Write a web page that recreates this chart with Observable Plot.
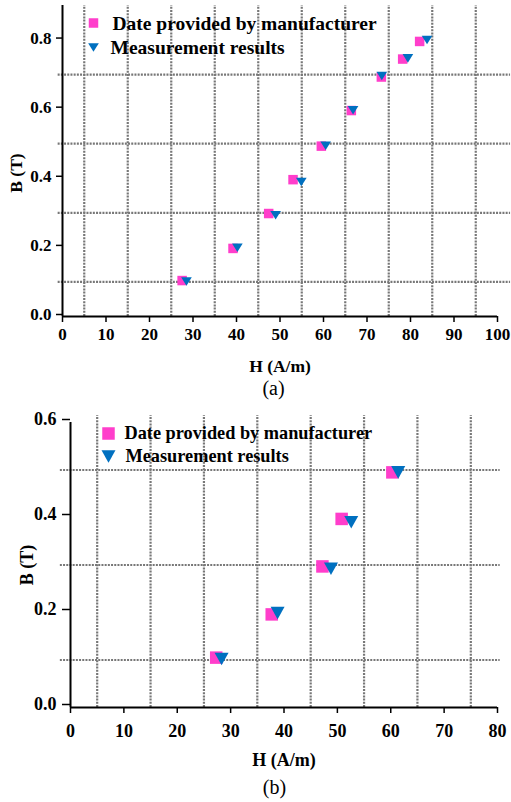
<!DOCTYPE html>
<html>
<head>
<meta charset="utf-8">
<script src="https://cdn.jsdelivr.net/npm/d3@7"></script>
<script src="https://cdn.jsdelivr.net/npm/@observablehq/plot@0.6"></script>
<style>
  html, body { margin: 0; padding: 0; background: #fff; }
  #chart { width: 511px; }
  #chart svg { display: block; }
  #chart svg text { font-family: 'Liberation Serif', 'Times New Roman', serif; }
</style>
</head>
<body>
<div id="chart"></div>
<script>
// ---- Data ----
const seriesNames = ["Date provided by manufacturer", "Measurement results"];

// Panel (a)
const aMfrH = [27.5, 39.2, 47.4, 53.0, 59.5, 66.4, 73.3, 78.2, 82.1];
const aMfrB = [0.104, 0.197, 0.298, 0.396, 0.493, 0.596, 0.693, 0.745, 0.796];
const aMeasH = [28.5, 40.2, 49.0, 54.9, 60.5, 66.8, 73.4, 79.4, 83.8];
const aMeasB = [0.101, 0.199, 0.293, 0.389, 0.494, 0.597, 0.696, 0.747, 0.800];

// Panel (b)
const bMfrH = [27.3, 37.7, 47.2, 50.8, 60.3];
const bMfrB = [0.105, 0.196, 0.297, 0.397, 0.495];
const bMeasH = [28.3, 38.8, 48.8, 52.6, 61.4];
const bMeasB = [0.102, 0.199, 0.292, 0.390, 0.495];

// Ticks and grid
const aXTicks = [0, 10, 20, 30, 40, 50, 60, 70, 80, 90, 100];
const aYTicks = [0, 0.2, 0.4, 0.6, 0.8];
const aGridX = [5, 15, 25, 35, 45, 55, 65, 75, 85, 95];
const aGridY = [0.1, 0.3, 0.5, 0.7];
const bXTicks = [0, 10, 20, 30, 40, 50, 60, 70, 80];
const bYTicks = [0, 0.2, 0.4, 0.6];
const bGridX = [5, 15, 25, 35, 45, 55, 65, 75];
const bGridY = [0.1, 0.3, 0.5];

const xLabel = "H (A/m)";
const yLabel = "B (T)";
const captions = ["(a)", "(b)"];

// ---- Styles ----
const PINK = "#ff3ecb";
const BLUE = "#0070c0";
const GRID = "#777777";
const FONT = "'Liberation Serif', 'Times New Roman', serif";

const zip = (hs, bs) => hs.map((h, i) => ({H: h, B: bs[i]}));

// custom symbols: size = PI r^2 -> side s = sqrt(size)
const squareSym = {draw(ctx, size) { const h = Math.sqrt(size) / 2; ctx.rect(-h, -h, 2 * h, 2 * h); }};
function triDown(aspect) {
  return {draw(ctx, size) {
    const w = Math.sqrt(size) * 1.12 / 2;
    const hh = w * aspect;
    ctx.moveTo(-w, -hh); ctx.lineTo(w, -hh); ctx.lineTo(0, hh); ctx.closePath();
  }};
}
const rFor = (side) => side / Math.sqrt(Math.PI);

function panel(o) {
  const gridStyle = {stroke: GRID, strokeWidth: 2.2, strokeDasharray: "2,1.2"};
  return Plot.plot({
    width: 511, height: o.height,
    marginLeft: o.ml, marginRight: o.mr, marginTop: o.mt, marginBottom: o.mb,
    x: {domain: o.xDomain},
    y: {domain: o.yDomain},
    style: {fontFamily: FONT, background: "white", overflow: "visible"},
    marks: [
      Plot.ruleX(o.gridX, {y1: 0, y2: o.gridTop, ...gridStyle}),
      Plot.ruleY(o.gridY, {x1: o.gridLeft, x2: o.gridRight, ...gridStyle}),
      Plot.ruleY([0], {x1: 0, x2: o.xDomain[1], stroke: "black", strokeWidth: 2}),
      Plot.ruleX([0], {y1: 0, y2: o.yDomain[1], stroke: "black", strokeWidth: 2}),
      Plot.axisX({ticks: o.xTicks, tickSize: 6, tickPadding: o.xPad, tickFormat: d => String(d),
        fontSize: o.tickFont, fontWeight: "bold", fill: "black", stroke: "black", strokeWidth: 1.5, label: null}),
      Plot.axisY({ticks: o.yTicks, tickSize: o.yTick, tickPadding: o.yPad, tickFormat: d3.format(".1f"),
        fontSize: o.tickFont, fontWeight: "bold", fill: "black", stroke: "black", strokeWidth: 1.5, label: null, dy: o.yLabDy}),
      Plot.dot(zip(o.mfrH, o.mfrB), {x: "H", y: "B", symbol: squareSym, r: rFor(o.sq), fill: PINK}),
      Plot.dot(zip(o.measH, o.measB), {x: "H", y: "B", symbol: triDown(o.triAspect), r: rFor(o.sq), fill: BLUE}),
      // legend
      Plot.dot([seriesNames[0]], {frameAnchor: "top-left", dx: o.lg.sqDx, dy: o.lg.sqDy, symbol: squareSym, r: rFor(o.lg.size), fill: PINK}),
      Plot.dot([seriesNames[1]], {frameAnchor: "top-left", dx: o.lg.sqDx, dy: o.lg.triDy, symbol: triDown(o.triAspect), r: rFor(o.lg.size), fill: BLUE}),
      Plot.text([seriesNames[0]], {frameAnchor: "top-left", text: d => d, dx: o.lg.t1Dx, dy: o.lg.t1Dy,
        textAnchor: "start", lineAnchor: "middle", fontSize: o.lg.font, fontWeight: "bold", fill: "black"}),
      Plot.text([seriesNames[1]], {frameAnchor: "top-left", text: d => d, dx: o.lg.t2Dx, dy: o.lg.t2Dy,
        textAnchor: "start", lineAnchor: "middle", fontSize: o.lg.font, fontWeight: "bold", fill: "black"}),
      // axis titles and caption
      Plot.text([xLabel], {frameAnchor: "bottom", text: d => d, dy: o.xLabDy, lineAnchor: "middle",
        fontSize: o.labFont, fontWeight: "bold", fill: "black"}),
      Plot.text([yLabel], {frameAnchor: "left", text: d => d, dx: o.yLabDx, dy: o.yLabOff, rotate: -90,
        lineAnchor: "middle", textAnchor: "middle", fontSize: o.labFont, fontWeight: "bold", fill: "black"}),
      Plot.text([o.caption], {frameAnchor: "bottom", text: d => d, dx: o.capDx, dy: o.capDy, lineAnchor: "middle",
        fontSize: 20, fontWeight: "normal", fill: "black"})
    ]
  });
}

const plotA = panel({
  height: 400, ml: 62, mr: 14, mt: 5, mb: 84,
  xDomain: [0, 100], yDomain: [0, 0.9],
  gridX: aGridX, gridY: aGridY, gridTop: 0.9, gridLeft: -1, gridRight: 103,
  xTicks: aXTicks, yTicks: aYTicks, xPad: 5, tickFont: 17,
  yTick: 6, yPad: 5, yLabDy: -2,
  mfrH: aMfrH, mfrB: aMfrB, measH: aMeasH, measB: aMeasB, sq: 9.5, triAspect: 0.8,
  lg: {size: 9.5, sqDx: 31, sqDy: 17.5, triDy: 42, t1Dx: 50, t1Dy: 18.5, t2Dx: 48, t2Dy: 42.5, font: 19.5},
  xLabDy: 50, labFont: 17.5, yLabDx: -46, yLabOff: 12,
  caption: captions[0], capDx: -6.5, capDy: 72
});

const plotB = panel({
  height: 402, ml: 70, mr: 14, mt: 22, mb: 95,
  xDomain: [0, 80], yDomain: [0, 0.6],
  gridX: bGridX, gridY: bGridY, gridTop: 0.615, gridLeft: -1.9, gridRight: 80.5,
  xTicks: bXTicks, yTicks: bYTicks, xPad: 11, tickFont: 18,
  yTick: 8, yPad: 6, yLabDy: -3,
  mfrH: bMfrH, mfrB: bMfrB, measH: bMeasH, measB: bMeasB, sq: 12.5, triAspect: 0.9,
  lg: {size: 12.5, sqDx: 38, sqDy: 11, triDy: 34, t1Dx: 54, t1Dy: 11, t2Dx: 55, t2Dy: 34, font: 18.3},
  xLabDy: 52.5, labFont: 18, yLabDx: -43, yLabOff: 0,
  caption: captions[1], capDx: -9.5, capDy: 80
});

const chart = document.getElementById("chart");
chart.appendChild(plotA);
chart.appendChild(plotB);
</script>
</body>
</html>
